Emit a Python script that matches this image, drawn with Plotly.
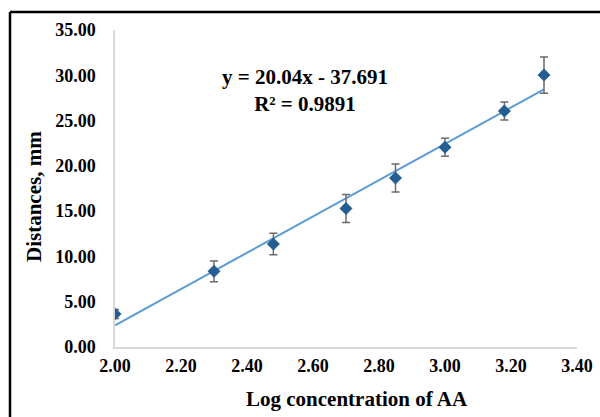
import plotly.graph_objects as go

# Data
log_conc = [2.00, 2.30, 2.48, 2.70, 2.85, 3.00, 3.18, 3.30]
distance = [3.64, 8.35, 11.37, 15.30, 18.66, 22.05, 26.05, 30.03]
err = [0.5, 1.15, 1.18, 1.55, 1.55, 1.0, 1.0, 2.0]
slope = 20.04
intercept = -37.691
r2 = 0.9891
trend_x = [2.00, 3.30]
x_ticks = [2.0, 2.2, 2.4, 2.6, 2.8, 3.0, 3.2, 3.4]
y_ticks = [0, 5, 10, 15, 20, 25, 30, 35]

FONT = "Liberation Serif, Times New Roman, serif"

fig = go.Figure()
fig.add_trace(go.Scatter(
    x=trend_x, y=[slope * x + intercept for x in trend_x],
    mode="lines", line=dict(color="#5b9bd5", width=2), showlegend=False,
))
fig.add_trace(go.Scatter(
    x=log_conc, y=distance, mode="markers",
    marker=dict(symbol="diamond", size=10, color="#255e91"),
    error_y=dict(type="data", array=err, visible=True, color="#6b6b6b",
                 thickness=1.5, width=4),
    showlegend=False,
))

W, H = 600, 417
L, R, T, B = 115, 23, 30, 70
pw, ph = W - L - R, H - T - B

def px(x):
    return (x - L) / pw

def py(y):
    return (H - B - y) / ph

TICKFONT = dict(family=FONT, size=18, weight="bold", color="black")

fig.update_layout(
    width=W, height=H,
    margin=dict(l=L, r=R, t=T, b=B),
    paper_bgcolor="white", plot_bgcolor="white",
    font=dict(family=FONT, color="black"),
    xaxis=dict(range=[2.0, 3.4], tickvals=x_ticks, tickformat=".2f",
               showgrid=False, zeroline=False, showline=True,
               linecolor="#d9d9d9", linewidth=1.5, ticks="",
               tickfont=TICKFONT, ticklabelstandoff=2, automargin=False),
    yaxis=dict(range=[0, 35], tickvals=y_ticks, tickformat=".2f",
               showgrid=False, zeroline=False, showline=True,
               linecolor="#d9d9d9", linewidth=1.5, ticks="",
               tickfont=TICKFONT, ticklabelstandoff=14, automargin=False),
    shapes=[
        dict(type="line", xref="paper", yref="paper",
             x0=px(10), x1=px(10), y0=py(430), y1=py(12),
             line=dict(color="black", width=2.5)),
        dict(type="line", xref="paper", yref="paper",
             x0=px(10), x1=px(610), y0=py(12), y1=py(12),
             line=dict(color="black", width=2.5)),
    ],
    annotations=[
        dict(text=f"<b>y = {slope}x - {abs(intercept)}</b><br><b>R² = {r2}</b>",
             xref="paper", yref="paper", x=px(305), y=py(90),
             xanchor="center", yanchor="middle",
             showarrow=False, font=dict(family=FONT, size=21, color="black"),
             align="center"),
        dict(text="<b>Log concentration of AA</b>", xref="paper", yref="paper",
             x=px(357), y=py(399), xanchor="center", yanchor="middle",
             showarrow=False,
             font=dict(family=FONT, size=21, color="black")),
        dict(text="<b>Distances, mm</b>", xref="paper", yref="paper",
             x=px(34), y=py(197), xanchor="center", yanchor="middle",
             showarrow=False, textangle=-90,
             font=dict(family=FONT, size=21, color="black")),
    ],
)

fig.write_html("out.html")
